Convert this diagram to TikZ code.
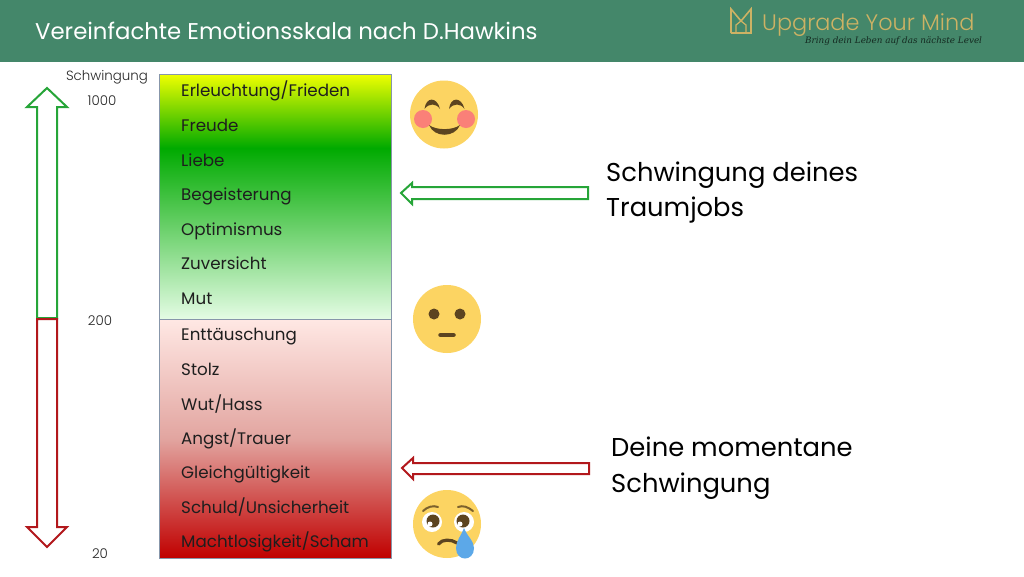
\documentclass[tikz,border=0pt]{standalone}
\usepackage{fontspec}
\setmainfont{Poppins}
\newfontfamily\lightfont{Poppins Light}
\newfontfamily\tagfont{DejaVu Serif}[ItalicFont=*  Italic]
\definecolor{band}{RGB}{68,135,106}
\definecolor{gold}{RGB}{205,178,100}
\definecolor{arrowgreen}{RGB}{38,165,56}
\definecolor{arrowred}{RGB}{178,24,28}
\definecolor{face}{RGB}{252,212,98}
\definecolor{facedark}{RGB}{92,68,32}
\definecolor{cheek}{RGB}{250,128,120}
\definecolor{tear}{RGB}{92,168,232}
\definecolor{boxline}{RGB}{135,150,170}
\definecolor{inktext}{RGB}{30,30,30}
\tikzset{
  x=1pt,y=-1pt,
  rowlabel/.style={anchor=base west,inner sep=0pt,font=\fontsize{16.7}{17}\selectfont,text=inktext},
  scalelabel/.style={anchor=base,inner sep=0pt,font=\lightfont\fontsize{13.4}{14}\selectfont,text=black!85},
  biglabel/.style={anchor=base west,inner sep=0pt,font=\fontsize{25.8}{27}\selectfont,text=black},
  bigarrow/.style={line width=2pt,fill=white,line join=miter},
  facedisc/.style={fill=face},
  featureline/.style={draw=facedark,line cap=round,fill=none},
}
\begin{document}
\begin{tikzpicture}
\useasboundingbox (0,0) rectangle (1024,576);
\fill[white] (0,0) rectangle (1024,576);
\fill[band] (0,0) rectangle (1024,62);
\node[anchor=base west,inner sep=0pt,text=white,font=\fontsize{22.8}{24}\selectfont] (title) at (35,39) {Vereinfachte Emotionsskala nach D.Hawkins};
% logo
\draw[gold,line width=1.6pt,line join=miter] (731,33) -- (731,9) -- (741,21) -- (751,9) -- (751,33) -- (731,33);
\draw[gold,line width=1.2pt] (736,33) -- (736,25) -- (741,21) -- (746,25) -- (746,33);
\node[anchor=base west,inner sep=0pt,text=gold,font=\lightfont\fontsize{22.4}{23}\selectfont] (logo) at (762,30) {Upgrade Your Mind};
\node[anchor=base west,inner sep=0pt,text=black!70!band,font=\tagfont\itshape\fontsize{8.8}{9}\selectfont] (tag) at (805,43) {Bring dein Leben auf das nächste Level};
% gradient scale
\shade[top color={rgb,255:red,240;green,255;blue,0},bottom color={rgb,255:red,0;green,170;blue,0}] (159,74) rectangle (391,148);
\shade[top color={rgb,255:red,0;green,170;blue,0},bottom color={rgb,255:red,228;green,252;blue,228}] (159,148) rectangle (391,319);
\shade[bottom color={rgb,255:red,192;green,0;blue,0},top color={rgb,255:red,255;green,232;blue,228},middle color={rgb,255:red,226;green,165;blue,160}] (159,319) rectangle (391,558);
\draw[boxline,line width=0.8pt] (159,74) rectangle (391,558);
\draw[boxline,line width=0.8pt] (159,319) -- (391,319);
% row labels
\node[rowlabel] (r1) at (181,96.7) {Erleuchtung/Frieden};
\node[rowlabel] (r2) at (181,131.7) {Freude};
\node[rowlabel] (r3) at (181,166) {Liebe};
\node[rowlabel] (r4) at (181,200.7) {Begeisterung};
\node[rowlabel] (r5) at (181,235) {Optimismus};
\node[rowlabel] (r6) at (181,269) {Zuversicht};
\node[rowlabel] (r7) at (181,304) {Mut};
\node[rowlabel] (r8) at (181,340) {Enttäuschung};
\node[rowlabel] (r9) at (181,375) {Stolz};
\node[rowlabel] (r10) at (181,410) {Wut/Hass};
\node[rowlabel] (r11) at (181,444) {Angst/Trauer};
\node[rowlabel] (r12) at (181,478) {Gleichgültigkeit};
\node[rowlabel] (r13) at (181,513) {Schuld/Unsicherheit};
\node[rowlabel] (r14) at (181,547) {Machtlosigkeit/Scham};
% scale
\node[scalelabel] (sch) at (107,80.6) {Schwingung};
\node[scalelabel] (s1000) at (102,105.7) {1000};
\node[scalelabel] (s200) at (100,325.7) {200};
\node[scalelabel] (s20) at (100,558) {20};
% vertical arrows
\draw[bigarrow,draw=arrowgreen] (47,88) -- (67,107) -- (57,107) -- (57,318) -- (37,318) -- (37,107) -- (27,107) -- cycle;
\draw[bigarrow,draw=arrowred] (37,319) -- (57,319) -- (57,527) -- (67,527) -- (47,547) -- (27,527) -- (37,527) -- cycle;
% horizontal arrows
\draw[bigarrow,draw=arrowgreen] (401,193) -- (412,183) -- (412,187) -- (588,187) -- (588,199) -- (412,199) -- (412,204) -- cycle;
\draw[bigarrow,draw=arrowred] (402,468) -- (413,458) -- (413,463) -- (589,463) -- (589,474) -- (413,474) -- (413,479) -- cycle;
% right labels
\node[biglabel] (t1) at (606,181.7) {Schwingung deines};
\node[biglabel] (t2) at (606,216.7) {Traumjobs};
\node[biglabel] (t3) at (611,456.5) {Deine momentane};
\node[biglabel] (t4) at (611,492.5) {Schwingung};
% happy face
\fill[facedisc] (444,114.5) circle[radius=34];
\fill[cheek] (423,119) circle[radius=9];
\fill[cheek] (466,119) circle[radius=9];
\fill[facedark] (424.5,109) .. controls (426,96.5) and (437,96.5) .. (440,109) .. controls (436,103) and (429,103) .. (424.5,109) -- cycle;
\fill[facedark] (449,109) .. controls (450.5,96.5) and (461.5,96.5) .. (464.5,109) .. controls (460.5,103) and (453.5,103) .. (449,109) -- cycle;
\fill[facedark] (429,125) .. controls (436,130.5) and (453,130.5) .. (460,125) .. controls (455,138) and (434,138) .. (429,125) -- cycle;
% neutral face
\fill[facedisc] (447,319) circle[radius=34];
\fill[facedark] (434,314) circle[radius=5.5];
\fill[facedark] (460,314) circle[radius=5.5];
\draw[featureline,line width=4.5pt] (440.5,335) -- (453.5,335);
% sad face
\fill[facedisc] (447,524) circle[radius=34];
\draw[featureline,draw=facedark!80!face,line width=2pt] (423,511) .. controls (427,507) and (433,505) .. (438,507);
\draw[featureline,draw=facedark!80!face,line width=2pt] (473,511) .. controls (468,507) and (463,505) .. (458,507);
\fill[white] (432,522) circle[radius=10];
\fill[white] (464,522) circle[radius=10];
\fill[facedark] (433,521) circle[radius=6.5];
\fill[facedark] (463,521) circle[radius=6.5];
\fill[white] (430,524) circle[radius=2.5];
\fill[white] (460,524) circle[radius=2.5];
\draw[featureline,line width=3.2pt] (438.5,544) .. controls (442,539) and (451,539) .. (457,543);
\fill[tear] (464,528) .. controls (467,536) and (474,541) .. (474,548) .. controls (474,562) and (456,562) .. (456,548) .. controls (456,541) and (461,536) .. (464,528) -- cycle;
\end{tikzpicture}
\end{document}
